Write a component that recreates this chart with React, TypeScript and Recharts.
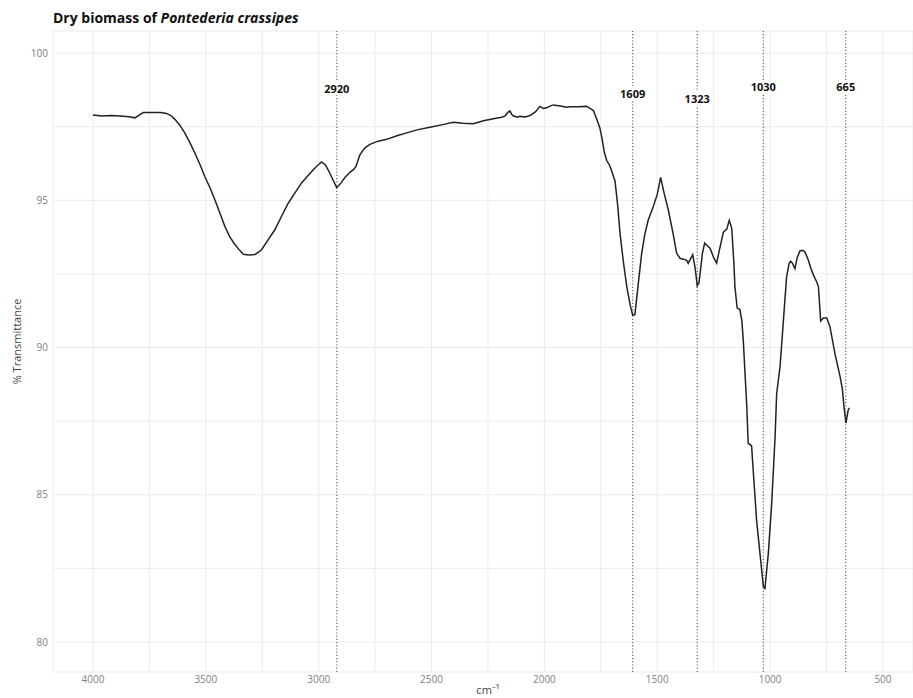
import { LineChart, Line, XAxis, YAxis, CartesianGrid, ReferenceLine, ReferenceDot } from 'recharts';

// wavenumber (cm-1) and % transmittance
const wavenumbers = [
  4000, 3960, 3920, 3880, 3840, 3814, 3790, 3777, 3740, 3700, 3674, 3655, 3637, 3615, 3592, 3570, 3548, 3525,
  3504, 3480, 3459, 3437, 3415, 3393, 3371, 3350, 3334, 3310, 3282, 3265, 3253, 3225, 3194, 3165, 3135, 3105,
  3075, 3040, 3010, 2987, 2970, 2957, 2940, 2920, 2900, 2883, 2860, 2845, 2835, 2817, 2795, 2773, 2740, 2699,
  2650, 2610, 2560, 2507, 2450, 2404, 2360, 2315, 2270, 2226, 2190, 2175, 2160, 2152, 2145, 2138, 2120, 2108,
  2085, 2064, 2040, 2020, 2005, 1990, 1975, 1960, 1930, 1900, 1887, 1850, 1813, 1798, 1783, 1768, 1754, 1746,
  1735, 1724, 1712, 1702, 1687, 1675, 1665, 1650, 1635, 1620, 1609, 1599, 1585, 1569, 1555, 1540, 1518, 1500,
  1485, 1470, 1451, 1432, 1414, 1399, 1385, 1370, 1363, 1350, 1343, 1332, 1323, 1315, 1300, 1290, 1284, 1266,
  1250, 1237, 1225, 1207, 1192, 1181, 1170, 1160, 1156, 1146, 1134, 1125, 1119, 1104, 1097, 1088, 1082, 1075,
  1060, 1045, 1030, 1023, 1008, 993, 978, 971, 956, 941, 927, 916, 909, 900, 890, 880, 868, 856, 846, 831, 820,
  808, 795, 786, 776, 764, 749, 735, 713, 690, 680, 673, 664, 658, 654, 648,
];
const transmittance = [
  97.9, 97.86, 97.88, 97.86, 97.84, 97.8, 97.92, 97.98, 97.98, 97.98, 97.95, 97.88, 97.75, 97.55, 97.27, 96.95, 96.6, 96.2,
  95.8, 95.4, 95.0, 94.55, 94.1, 93.75, 93.5, 93.3, 93.17, 93.14, 93.16, 93.25, 93.32, 93.65, 94.0, 94.45, 94.9, 95.25,
  95.6, 95.9, 96.15, 96.3, 96.2, 96.02, 95.75, 95.43, 95.6, 95.78, 95.96, 96.05, 96.15, 96.55, 96.78, 96.9, 97.0, 97.07,
  97.2, 97.29, 97.4, 97.48, 97.57, 97.65, 97.62, 97.6, 97.7, 97.77, 97.82, 97.86, 98.0, 98.03, 97.92, 97.87, 97.82, 97.85,
  97.83, 97.88, 98.0, 98.19, 98.12, 98.14, 98.2, 98.24, 98.2, 98.16, 98.18, 98.18, 98.19, 98.12, 98.05, 97.75, 97.45, 97.15,
  96.65, 96.35, 96.2, 96.0, 95.65, 94.8, 93.88, 92.9, 92.07, 91.45, 91.1, 91.12, 92.1, 93.2, 93.85, 94.33, 94.78, 95.2,
  95.78, 95.25, 94.67, 93.95, 93.2, 93.03, 93.0, 92.97, 92.86, 93.05, 93.15, 92.7, 92.1, 92.2, 93.2, 93.55, 93.5, 93.37,
  93.05, 92.87, 93.3, 93.92, 94.02, 94.32, 94.05, 92.8, 92.07, 91.34, 91.3, 90.9, 90.25, 88.1, 86.74, 86.7, 86.65, 85.84,
  84.14, 83.01, 81.88, 81.82, 83.0, 84.7, 86.97, 88.44, 89.35, 90.93, 92.4, 92.85, 92.93, 92.85, 92.68, 93.05, 93.28, 93.3, 93.25, 92.97, 92.7,
  92.46, 92.25, 92.07, 90.9, 91.0, 91.0, 90.71, 89.8, 89.01, 88.6, 88.0, 87.43, 87.7, 87.88, 87.95,
];

const peaks = [2920, 1609, 1323, 1030, 665];
const peakLabelY = [98.81, 98.64, 98.47, 98.85, 98.85];

const xTicks = [500, 750, 1000, 1250, 1500, 1750, 2000, 2250, 2500, 2750, 3000, 3250, 3500, 3750, 4000];
const yTicks = [80, 82.5, 85, 87.5, 90, 92.5, 95, 97.5, 100];

const data = wavenumbers.map((wn, i) => ({ wn, t: transmittance[i] }));

const font = '"Open Sans", sans-serif';

const peakLabel = (text: string) => (props: any) => {
  const vb = props.viewBox;
  const cx = vb.x + vb.width / 2;
  const cy = vb.y + vb.height / 2;
  const w = text.length * 7 + 2;
  return (
    <g>
      <rect x={cx - w / 2} y={cy - 7} width={w} height={14} fill="#ffffff" />
      <text x={cx} y={cy} textAnchor="middle" dominantBaseline="central" fontFamily={font} fontWeight="bold" fontSize={11} fill="#111">
        {text}
      </text>
    </g>
  );
};

const yLabel = (props: any) => {
  const vb = props.viewBox;
  const cx = 16;
  const cy = vb.y + vb.height / 2 - 10;
  return (
    <text x={cx} y={cy} transform={`rotate(-90 ${cx} ${cy})`} textAnchor="middle" dominantBaseline="central" fontFamily={font} fontSize={11} fill="#444">
      % Transmittance
    </text>
  );
};

const xLabel = (props: any) => {
  const vb = props.viewBox;
  return (
    <text x={vb.x + vb.width / 2 + 5} y={689} textAnchor="middle" dominantBaseline="central" fontFamily={font} fontSize={11} fill="#444">
      cm⁻¹
    </text>
  );
};

export default function App() {
  return (
    <div style={{ position: 'absolute', left: 0, top: 0, width: 913, height: 698, background: '#fff', fontFamily: font }}>
      <div style={{ position: 'absolute', left: 53, top: 8, fontSize: 14, fontWeight: 'bold', color: '#111', whiteSpace: 'nowrap' }}>
        Dry biomass of <i>Pontederia crassipes</i>
      </div>
      <LineChart width={913} height={698} data={data} margin={{ top: 31, right: 0, bottom: 0, left: 0 }}>
        <CartesianGrid stroke="#ececec" strokeWidth={1} />
        <XAxis
          dataKey="wn"
          type="number"
          domain={[367, 4177]}
          reversed
          allowDataOverflow
          ticks={xTicks}
          interval={0}
          tickFormatter={(v: number) => (v % 500 === 0 ? String(v) : '')}
          axisLine={false}
          tickLine={false}
          tickSize={0}
          tickMargin={4}
          height={26}
          tick={{ fontSize: 10, fill: '#808080', fontFamily: font }}
          label={xLabel}
        />
        <YAxis
          type="number"
          domain={[78.98, 100.75]}
          allowDataOverflow
          ticks={yTicks}
          interval={0}
          tickFormatter={(v: number) => (v % 5 === 0 ? String(v) : '')}
          axisLine={false}
          tickLine={false}
          tickSize={0}
          tickMargin={5}
          width={53}
          tick={{ fontSize: 10, fill: '#808080', fontFamily: font }}
          label={yLabel}
        />
        {peaks.map((p) => (
          <ReferenceLine key={`l-${p}`} x={p} stroke="#666" strokeWidth={1.2} strokeDasharray="1.2 2" />
        ))}
        <Line type="linear" dataKey="t" stroke="#222" strokeWidth={1.5} dot={false} isAnimationActive={false} />
        {peaks.map((p, i) => (
          <ReferenceDot key={`d-${p}`} x={p} y={peakLabelY[i]} r={3} fill="none" stroke="none" label={peakLabel(String(p))} />
        ))}
      </LineChart>
    </div>
  );
}
